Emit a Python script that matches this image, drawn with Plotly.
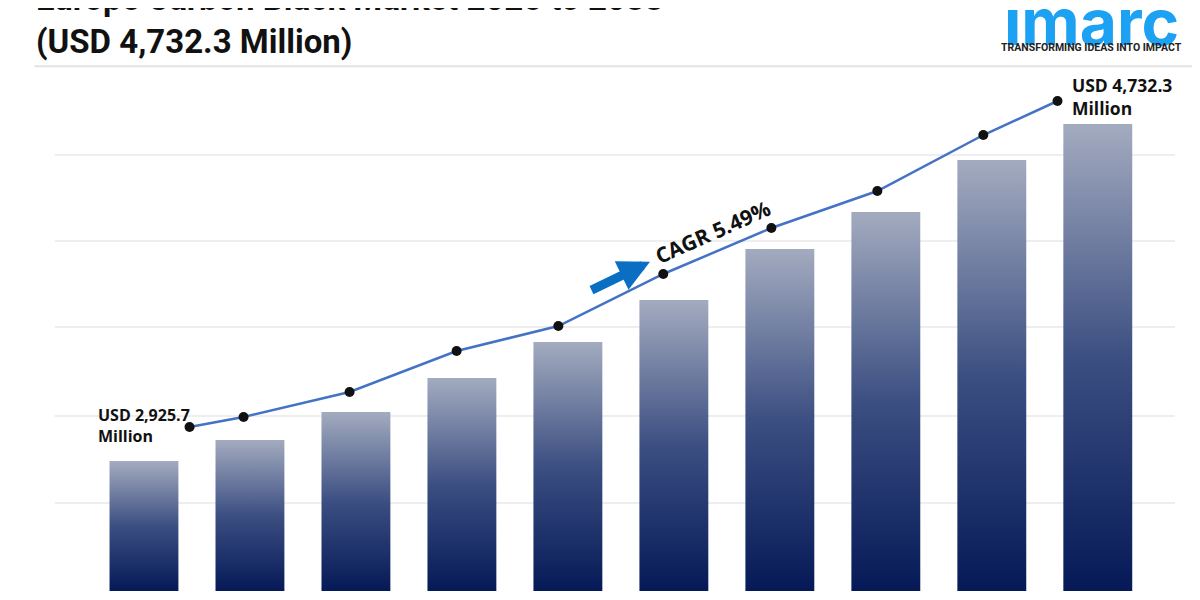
import plotly.graph_objects as go

years = ["2024", "2025", "2026", "2027", "2028", "2029", "2030", "2031", "2032", "2033"]
bar_values = [130, 151, 179, 213, 249, 291, 342, 379, 431, 467]
line_x = [0.43, 0.94, 1.94, 2.95, 3.91, 4.90, 5.92, 6.92, 7.92, 8.62]
line_values = [164, 174, 199, 240, 265, 317, 363, 400, 456, 490]
grid_levels = [88, 175, 264, 350, 436]

fig = go.Figure()

half = 0.325
for i, v in enumerate(bar_values):
    fig.add_trace(go.Scatter(
        x=[i - half, i + half, i + half, i - half, i - half],
        y=[0, 0, v, v, 0],
        mode="lines", line=dict(width=0), fill="toself",
        fillgradient=dict(type="vertical",
                          colorscale=[[0, "#051957"], [0.5, "#3c4f82"], [1, "#a3abbf"]]),
        hoverinfo="skip", showlegend=False, name=years[i]))

fig.add_trace(go.Scatter(
    x=line_x, y=line_values, mode="lines+markers",
    line=dict(color="#4472c4", width=2.5),
    marker=dict(color="#111111", size=10),
    showlegend=False))

shapes = [dict(type="line", xref="paper", yref="y", x0=0.039, x1=0.9725, y0=g, y1=g,
               line=dict(color="#dddddd", width=1), layer="below") for g in grid_levels]
shapes.append(dict(type="line", xref="paper", yref="paper", x0=0.022, x1=1, y0=0.903, y1=0.903,
                   line=dict(color="#e3e3e3", width=2)))

fig.update_layout(
    width=1200, height=600,
    margin=dict(l=0, r=0, t=0, b=0),
    plot_bgcolor="white", paper_bgcolor="white",
    xaxis=dict(range=[-1.283, 10.04], visible=False),
    yaxis=dict(range=[-17, 583], visible=False),
    shapes=shapes,
    font=dict(family="Open Sans"),
    annotations=[
        dict(xref="paper", yref="paper", x=0.022, y=1.052, xanchor="left", yanchor="top",
             text="<b>Europe Carbon Black Market 2025 to 2033<br>(USD 4,732.3 Million)</b>",
             showarrow=False, align="left",
             font=dict(family="Roboto", size=33, color="#111111")),
        dict(xref="paper", yref="paper", x=0.9025, y=0.978, xanchor="center", yanchor="middle",
             text="<b>imarc</b>", showarrow=False,
             font=dict(family="Inter", size=64, color="#1da1f2")),
        dict(xref="paper", yref="paper", x=0.9025, y=0.934, xanchor="center", yanchor="middle",
             text="<b>TRANSFORMING IDEAS INTO IMPACT</b>", showarrow=False,
             font=dict(family="Roboto", size=10.5, color="#222222")),
        dict(xref="paper", yref="paper", x=0.0733, y=0.305, xanchor="left", yanchor="middle",
             text="<b>USD 2,925.7<br>Million</b>", showarrow=False, align="left",
             font=dict(size=16, color="#111111")),
        dict(xref="paper", yref="paper", x=0.885, y=0.853, xanchor="left", yanchor="middle",
             text="<b>USD 4,732.3<br>Million</b>", showarrow=False, align="left",
             font=dict(size=17.5, color="#111111")),
        dict(xref="paper", yref="paper", x=0.587, y=0.627, xanchor="center", yanchor="middle",
             text="<b>CAGR 5.49%</b>", showarrow=False, textangle=-24,
             font=dict(size=21, color="#111111")),
        dict(xref="paper", yref="paper", x=0.535, y=0.577, ax=-60, ay=29,
             text="", showarrow=True, arrowhead=2, arrowsize=0.7, arrowwidth=9,
             arrowcolor="#0a6fc2"),
    ],
)

fig.write_html("out.html")
